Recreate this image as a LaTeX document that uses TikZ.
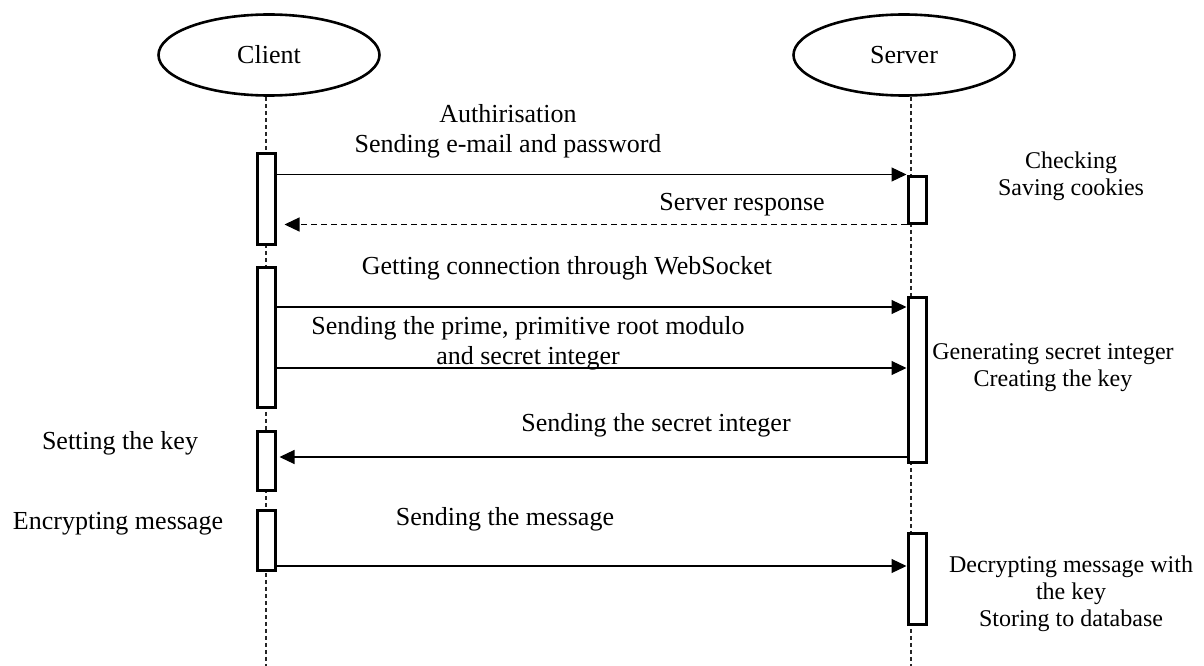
\documentclass[tikz,border=0pt]{standalone}
\usepackage{fontspec}
\setmainfont{Liberation Serif}
\usetikzlibrary{shapes.geometric,arrows.meta}

\begin{document}
\begin{tikzpicture}
        [x=1pt, y=-1pt,
        actor/.style={ellipse, draw, line width=2.6pt, minimum width=221pt, minimum height=81pt, inner sep=0pt, font=\fontsize{26}{31}\selectfont},
        life/.style={dash pattern=on 4pt off 3pt, line width=1.2pt, black!85},
        act/.style={rectangle, draw, fill=white, line width=3pt, minimum width=18pt, inner sep=0pt},
        msg/.style={line width=1.2pt, -{Triangle[length=15pt, width=14pt]}},
        reply/.style={msg, dash pattern=on 6pt off 4pt},
        lbl/.style={align=center, inner sep=0pt, font=\fontsize{26}{30}\selectfont},
        note/.style={align=center, inner sep=0pt, font=\fontsize{24}{27}\selectfont}]

        \useasboundingbox (0,0) rectangle (1204,666);

        % Actors
        \node[actor] (client) at (269,55) {Client};
        \node[actor] (server) at (904,55) {Server};

        % Message heights and bottom of the lifelines
        \coordinate (bottom) at (0,666);
        \coordinate (m2) at (0,307);
        \coordinate (m3) at (0,368);
        \coordinate (m4) at (0,457);
        \coordinate (m5) at (0,566);
        \coordinate (cl) at (266,0);
        \coordinate (sl) at (911,0);

        % Lifelines
        \draw[life] (client.south -| cl) -- (cl |- bottom);
        \draw[life] (server.south -| sl) -- (sl |- bottom);

        % Activation boxes on the client
        \node[act, minimum height=91pt] (c1) at (266,198.5) {};
        \node[act, minimum height=140pt] (c2) at (266,337) {};
        \node[act, minimum height=59pt] (c3) at (266,460.5) {};
        \node[act, minimum height=60pt] (c4) at (266,540) {};

        % Activation boxes on the server
        \node[act, minimum height=47pt] (s1) at (917,199.5) {};
        \node[act, minimum height=165pt] (s2) at (917,379.5) {};
        \node[act, minimum height=91pt] (s3) at (917,578.5) {};

        % Messages
        \draw[msg] (c1.east |- s1.north) -- (s1.north west);
        \draw[reply, shorten >=8pt] (s1.south west) -- (c1.east |- s1.south);
        \draw[msg] (c2.east |- m2) -- (s2.west |- m2);
        \draw[msg] (c2.east |- m3) -- (s2.west |- m3);
        \draw[msg, shorten >=3pt] (s2.west |- m4) -- (c3.east |- m4);
        \draw[msg] (c4.east |- m5) -- (s3.west |- m5);

        % Message labels
        \node[lbl] (auth) at (508,131) {Authirisation\\Sending e-mail and password};
        \node[lbl] (resp) at (742,205) {Server response};
        \node[lbl] (ws) at (567,268) {Getting connection through WebSocket};
        \node[lbl] (prime) at (528,343) {Sending the prime, primitive root modulo\\and secret integer};
        \node[lbl] (secret) at (656,425) {Sending the secret integer};
        \node[lbl] (send) at (505,519) {Sending the message};

        % Notes beside the lifelines
        \node[lbl] (setkey) at (120,443) {Setting the key};
        \node[lbl] (enc) at (118,524) {Encrypting message};
        \node[note] (check) at (1071,176) {Checking\\Saving cookies};
        \node[note] (gen) at (1053,368) {Generating secret integer\\Creating the key};
        \node[note] (dec) at (1071,594) {Decrypting message with\\the key\\Storing to database};

\end{tikzpicture}
\end{document}
